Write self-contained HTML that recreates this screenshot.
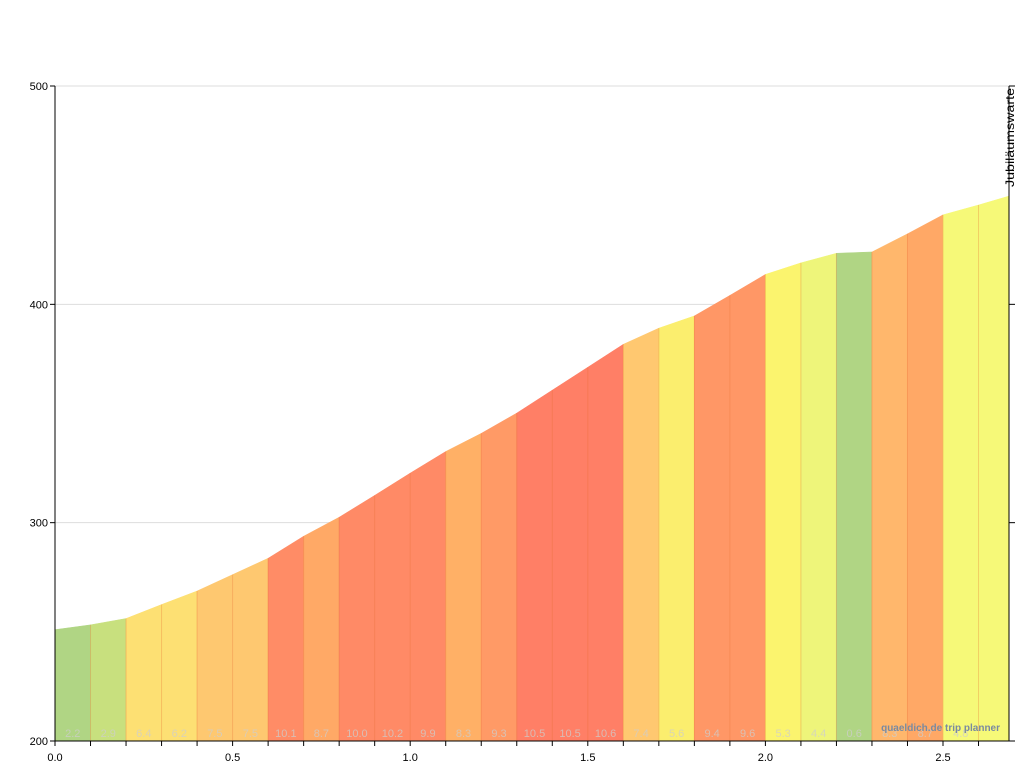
<!DOCTYPE html>
<html><head><meta charset="utf-8"><style>
body{margin:0;background:#fff;font-family:"Liberation Sans",sans-serif}
svg text{font-family:"Liberation Sans",sans-serif}
</style></head><body>
<svg id="c" width="1024" height="768"></svg>
<script>
const distances=[0,0.1,0.2,0.3,0.4,0.5,0.6,0.7,0.8,0.9,1.0,1.1,1.2,1.3,1.4,1.5,1.6,1.7,1.8,1.9,2.0,2.1,2.2,2.3,2.4,2.5,2.6,2.686];
const elevations=[251,253.2,256.1,262.5,268.7,276.2,283.7,293.8,302.5,312.5,322.7,332.6,340.9,350.2,360.7,371.2,381.7,389.1,394.7,404.1,413.7,419,423.4,424,432.3,441,445.5,449.6];
const grades=["2.2","2.9","6.4","6.2","7.5","7.5","10.1","8.7","10.0","10.2","9.9","8.3","9.3","10.5","10.5","10.6","7.4","5.6","9.4","9.6","5.3","4.4","0.6","8.3","8.7","4.8",""];
const colors=["#b0d584","#c8e07e","#fde073","#fde073","#fec870","#fec870","#ff8c66","#ffa966","#ff8a66","#ff8a66","#ff8a66","#ffb066","#ff9a66","#ff7f66","#ff7f66","#ff7f66","#ffc870","#fbee6e","#ff9766","#ff9766","#fbf46e","#eef57a","#b0d584","#ffb76c","#ffa866","#f6f978","#f6f978"];
const yTicks=[200,300,400,500];
const xTickLabels=[0,0.5,1.0,1.5,2.0,2.5];
const NS="http://www.w3.org/2000/svg",svg=document.getElementById('c');
const X=d=>55+d*355.2, Y=e=>741-(e-200)*2.1833;
function el(t,a,p){const e=document.createElementNS(NS,t);for(const k in a)e.setAttribute(k,a[k]);(p||svg).appendChild(e);return e;}
yTicks.forEach(v=>{if(v>200){const g=el('line',{x1:55,x2:1009,y1:Y(v),y2:Y(v),stroke:'#ddd'});

}});
for(let i=0;i<distances.length-1;i++){
 const x0=X(distances[i]),x1=X(distances[i+1]);
 const p=el('polygon',{points:`${x0},741 ${x0},${Y(elevations[i])} ${x1},${Y(elevations[i+1])} ${x1},741`,fill:colors[i],stroke:colors[i],'stroke-width':0.5});
 
 
 if(i>0){el('line',{x1:x0,x2:x0,y1:Y(elevations[i]),y2:741,stroke:'rgba(230,110,50,0.3)'});}
 if(grades[i]){const t=el('text',{x:(x0+x1)/2,y:737,'text-anchor':'middle','font-size':11,fill:'rgba(205,205,205,0.75)'});t.textContent=grades[i];
 
 }
}
el('line',{x1:55,x2:55,y1:86,y2:741,stroke:'#000'});
el('line',{x1:1009,x2:1009,y1:86,y2:741,stroke:'#000'});
el('line',{x1:55,x2:1015,y1:741,y2:741,stroke:'#000'});
yTicks.forEach(v=>{el('line',{x1:50,x2:55,y1:Y(v),y2:Y(v),stroke:'#000'});el('line',{x1:1009,x2:1015,y1:Y(v),y2:Y(v),stroke:'#000'});
 const t=el('text',{x:48,y:Y(v)+4,'text-anchor':'end','font-size':11,fill:'#000'});t.textContent=v;
 
 });
for(let d=0;d<=2.65;d+=0.1){el('line',{x1:X(d),x2:X(d),y1:741,y2:746,stroke:'#000'});}
xTickLabels.forEach(v=>{const t=el('text',{x:X(v),y:761,'text-anchor':'middle','font-size':11,fill:'#000'});t.textContent=v.toFixed(1);
 
 });
const w=el('text',{x:1000,y:731,'text-anchor':'end','font-size':10,fill:'#7a8aa0','font-weight':'bold'});w.textContent='quaeldich.de trip planner';


const m=el('text',{x:1014,y:88,'font-size':12,fill:'#000','text-anchor':'end',textLength:99,lengthAdjust:'spacingAndGlyphs',transform:'rotate(-90 1014 88)'});m.textContent='Jubiläumswarte';


</script>
</body></html>
